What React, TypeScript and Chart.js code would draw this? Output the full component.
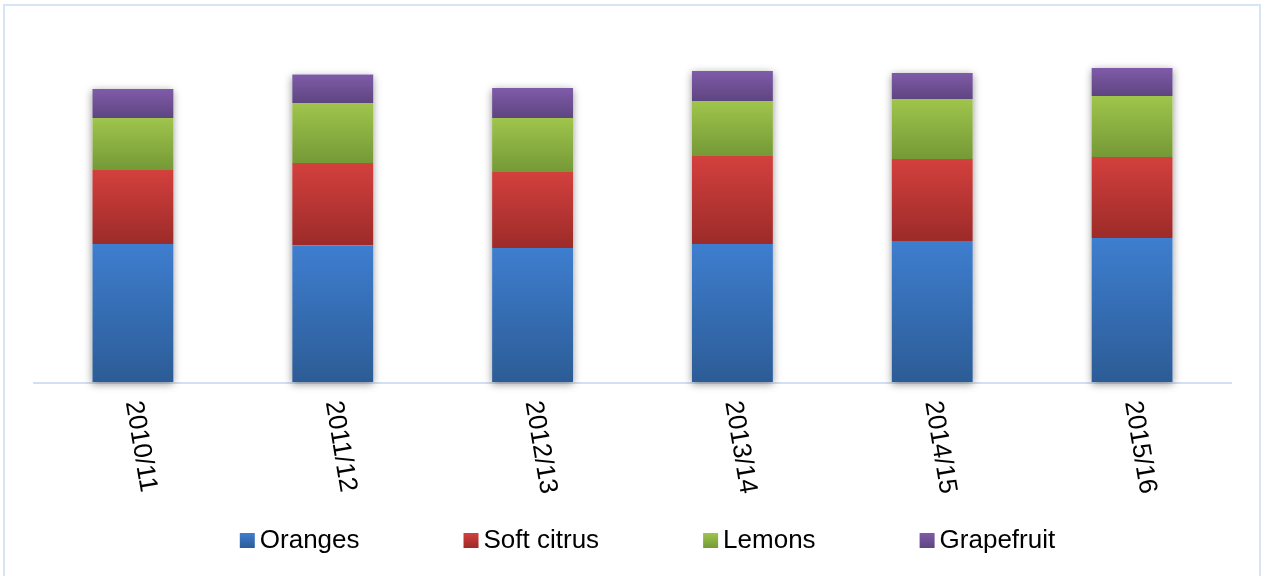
import { useEffect, useRef } from "react";
import { Chart, registerables } from "chart.js";

Chart.register(...registerables);

// Citrus volumes per season (stacked)
const seasons = ["2010/11", "2011/12", "2012/13", "2013/14", "2014/15", "2015/16"];
const oranges = [1380, 1365, 1340, 1380, 1410, 1440];
const softCitrus = [740, 825, 760, 880, 820, 810];
const lemons = [520, 600, 540, 550, 600, 610];
const grapefruit = [290, 285, 300, 300, 260, 280];
const seriesNames = ["Oranges", "Soft citrus", "Lemons", "Grapefruit"];
const yMax = 3600;

const allSeries = [oranges, softCitrus, lemons, grapefruit];

// Top/bottom colours of each segment's vertical gradient
const gradients = [
  { top: "#3e7ecf", bottom: "#2c5c96" },
  { top: "#d3403d", bottom: "#9c2b29" },
  { top: "#9fc54c", bottom: "#759936" },
  { top: "#7f5ba9", bottom: "#5e4580" },
];

const FONT = "'Liberation Sans', Arial, Helvetica, sans-serif";
const TEXT_SIZE = 26;

function segmentFill(seriesIndex: number) {
  return (ctx: any) => {
    const chart = ctx.chart;
    const yScale = chart.scales && chart.scales.y;
    const g = gradients[seriesIndex];
    if (!yScale || ctx.type !== "data") return g.top;
    const i = ctx.dataIndex;
    let start = 0;
    for (let k = 0; k < seriesIndex; k++) start += allSeries[k][i];
    const end = start + allSeries[seriesIndex][i];
    const yTop = yScale.getPixelForValue(end);
    const yBottom = yScale.getPixelForValue(start);
    if (!isFinite(yTop) || !isFinite(yBottom) || yTop === yBottom) return g.top;
    const grad = chart.ctx.createLinearGradient(0, yTop, 0, yBottom);
    grad.addColorStop(0, g.top);
    grad.addColorStop(1, g.bottom);
    return grad;
  };
}

// Frame, baseline and soft drop shadow under each stacked column
const decorPlugin = {
  id: "decor",
  beforeDraw(chart: any) {
    const { ctx, width, height } = chart;
    ctx.save();
    ctx.fillStyle = "#ffffff";
    ctx.fillRect(0, 0, width, height);
    ctx.strokeStyle = "#d8e4f3";
    ctx.lineWidth = 2;
    ctx.strokeRect(4, 5, width - 6, height + 10);
    ctx.restore();
  },
  beforeDatasetsDraw(chart: any) {
    const { ctx, chartArea } = chart;
    const yScale = chart.scales.y;
    const meta = chart.getDatasetMeta(0);
    ctx.save();
    ctx.strokeStyle = "#d3e0f1";
    ctx.lineWidth = 2;
    ctx.beginPath();
    ctx.moveTo(chartArea.left, chartArea.bottom + 1);
    ctx.lineTo(chartArea.right, chartArea.bottom + 1);
    ctx.stroke();

    ctx.shadowColor = "rgba(0,0,0,0.42)";
    ctx.shadowBlur = 8;
    ctx.shadowOffsetX = 0;
    ctx.shadowOffsetY = 2;
    ctx.fillStyle = "#ffffff";
    meta.data.forEach((el: any, i: number) => {
      const total = allSeries.reduce((s, arr) => s + arr[i], 0);
      const top = yScale.getPixelForValue(total);
      const bottom = yScale.getPixelForValue(0);
      ctx.fillRect(el.x - el.width / 2, top, el.width, bottom - top);
    });
    ctx.restore();
  },
  afterDraw(chart: any) {
    const { ctx } = chart;
    const xScale = chart.scales.x;
    ctx.save();
    ctx.font = `${TEXT_SIZE}px ${FONT}`;
    ctx.fillStyle = "#000000";

    // Season labels, turned clockwise under each column
    const angle = (80.5 * Math.PI) / 180;
    seasons.forEach((label, i) => {
      const x = xScale.getPixelForValue(i);
      ctx.save();
      ctx.translate(x, 401);
      ctx.rotate(angle);
      ctx.textAlign = "left";
      ctx.textBaseline = "middle";
      ctx.fillText(label, 0, 0);
      ctx.restore();
    });

    // Legend row
    const box = 15;
    const boxGap = 5;
    const itemGap = 104;
    const widths = seriesNames.map((n) => ctx.measureText(n).width);
    const total =
      widths.reduce((s, w) => s + w + box + boxGap, 0) + itemGap * (seriesNames.length - 1);
    let x = 647.5 - total / 2;
    const boxTop = 533;
    const textMid = 541;
    ctx.textAlign = "left";
    ctx.textBaseline = "middle";
    seriesNames.forEach((name, k) => {
      const g = gradients[k];
      const grad = ctx.createLinearGradient(0, boxTop, 0, boxTop + box);
      grad.addColorStop(0, g.top);
      grad.addColorStop(1, g.bottom);
      ctx.fillStyle = grad;
      ctx.fillRect(x, boxTop, box, box);
      ctx.fillStyle = "#000000";
      ctx.fillText(name, x + box + boxGap, textMid);
      x += box + boxGap + widths[k] + itemGap;
    });
    ctx.restore();
  },
};

export default function App() {
  const canvasRef = useRef<HTMLCanvasElement | null>(null);

  useEffect(() => {
    const canvas = canvasRef.current;
    if (!canvas) return;
    const chart = new Chart(canvas, {
      type: "bar",
      data: {
        labels: seasons,
        datasets: allSeries.map((values, k) => ({
          label: seriesNames[k],
          data: values,
          backgroundColor: segmentFill(k),
          borderWidth: 0,
          categoryPercentage: 1,
          barPercentage: 0.405,
        })),
      },
      options: {
        responsive: false,
        animation: false,
        devicePixelRatio: 1,
        layout: { padding: { left: 33, right: 30, top: 22, bottom: 0 } },
        plugins: {
          legend: { display: false },
          tooltip: { enabled: false },
          title: { display: false },
        },
        scales: {
          x: {
            stacked: true,
            grid: { display: false, drawTicks: false },
            border: { display: false },
            ticks: { display: false },
            afterFit: (scale: any) => {
              scale.height = 194;
            },
          },
          y: {
            stacked: true,
            display: false,
            min: 0,
            max: yMax,
          },
        },
      },
      plugins: [decorPlugin],
    });
    return () => chart.destroy();
  }, []);

  return (
    <div style={{ position: "fixed", left: 0, top: 0, width: 1262, height: 576, background: "#fff" }}>
      <canvas ref={canvasRef} width={1262} height={576} style={{ display: "block" }} />
    </div>
  );
}
